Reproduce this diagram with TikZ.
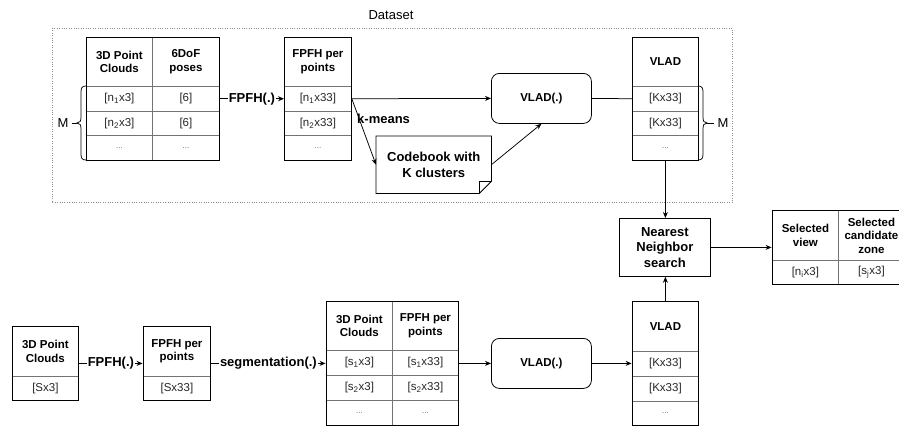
\documentclass[tikz,border=0pt]{standalone}
\usepackage{fontspec}
\setmainfont{Liberation Sans}
\usetikzlibrary{arrows.meta,fit,calc}
\newcommand\myfsS{\fontsize{11.5}{13.5}\selectfont}
\newcommand\myfsL{\fontsize{13}{15.5}\selectfont}
\newcommand\myfsT{\fontsize{8}{9}\selectfont}
\newcommand\cellnode[7][]{\node[cellst,#1,minimum width=#5pt,minimum height=#6pt] (#2) at (#3,#4) {#7};}
\tikzset{
  cellst/.style={draw=black!55, line width=0.8pt, anchor=north west, inner sep=0pt, align=center, font=\myfsS, text=black!85},
  hdr/.style={font=\myfsS\bfseries, text=black},
  dots/.style={font=\myfsT, text=black!60},
  tbl/.style={draw=black, line width=0.9pt, inner sep=0pt},
  conn/.style={line width=0.75pt, draw=black},
  arr/.style={conn, -{Stealth[length=6pt,width=5pt,inset=2pt]}},
  lbl/.style={fill=white, font=\myfsL\bfseries, inner sep=1pt},
  procbox/.style={draw=black, line width=0.8pt, anchor=north west, align=center, inner sep=0pt},
  dotbox/.style={draw=black!45, line width=0.8pt, dash pattern=on 0.8pt off 1.6pt, anchor=north west, inner sep=0pt}
}
\begin{document}
\begin{tikzpicture}[x=1pt,y=-1pt]
\useasboundingbox (0,0) rectangle (899,426);
\clip (0,0) rectangle (899,426);
\fill[white] (0,0) rectangle (899,426);

% dataset frame
\node[dotbox, minimum width=680pt, minimum height=174pt] (ds) at (52,28) {};
\node[font=\myfsL] (dslabel) at (391,15) {Dataset};

% table 1: 3D point clouds + poses
\cellnode[hdr]{a1}{86}{37}{66}{49}{3D Point\\Clouds}
\cellnode[hdr]{b1}{152}{37}{67}{49}{6DoF\\poses}
\cellnode{a2}{86}{86}{66}{24.67}{[n\textsubscript{1}x3]}
\cellnode{b2}{152}{86}{67}{24.67}{[6]}
\cellnode{a3}{86}{110.67}{66}{24.67}{[n\textsubscript{2}x3]}
\cellnode{b3}{152}{110.67}{67}{24.67}{[6]}
\cellnode[dots]{a4}{86}{135.33}{66}{24.67}{...}
\cellnode[dots]{b4}{152}{135.33}{67}{24.67}{...}
\node[tbl, fit=(a1)(b4)] (T1) {};

% table 2: FPFH per points
\cellnode[hdr]{c1}{284}{37}{67}{49}{FPFH per\\points}
\cellnode{c2}{284}{86}{67}{24.67}{[n\textsubscript{1}x33]}
\cellnode{c3}{284}{110.67}{67}{24.67}{[n\textsubscript{2}x33]}
\cellnode[dots]{c4}{284}{135.33}{67}{24.67}{...}
\node[tbl, fit=(c1)(c4)] (T2) {};

% table 3: VLAD (dataset)
\cellnode[hdr]{d1}{632}{37}{66}{49}{VLAD}
\cellnode{d2}{632}{86}{66}{24.67}{[Kx33]}
\cellnode{d3}{632}{110.67}{66}{24.67}{[Kx33]}
\cellnode[dots]{d4}{632}{135.33}{66}{24.67}{...}
\node[tbl, fit=(d1)(d4)] (T3) {};

% VLAD(.) top
\node[procbox, rounded corners=8pt, minimum width=100pt, minimum height=50pt, font=\myfsS\bfseries] (vf1) at (491,73) {VLAD(.)};

% codebook note
\node[anchor=north west, inner sep=0pt, minimum width=115pt, minimum height=57pt, align=center, font=\myfsL\bfseries] (cb) at (376,136) {Codebook with\\K clusters};
\draw[line width=0.8pt] (cb.north west) -- (cb.north east) -- ($(cb.south east)+(0,-12)$) -- ($(cb.south east)+(-12,0)$) -- (cb.south west) -- cycle;
\draw[line width=0.8pt] ($(cb.south east)+(-12,0)$) -- ($(cb.south east)+(-12,-12)$) -- ($(cb.south east)+(0,-12)$);

% braces and M
\node[font=\myfsL] (m1) at (63,123) {M};
\draw[line width=0.75pt] (86,86) .. controls (82,86) and (81,88) .. (81,92) -- (81,117) .. controls (81,121) and (80,123) .. (77,123) .. controls (80,123) and (81,125) .. (81,129) -- (81,154) .. controls (81,158) and (82,160) .. (86,160);
\draw[line width=0.75pt] (77,123) -- (m1.east);
\node[font=\myfsL] (m2) at (723,123) {M};
\draw[line width=0.75pt] (698,86) .. controls (702,86) and (703,88) .. (703,92) -- (703,117) .. controls (703,121) and (704,123) .. (707,123) .. controls (704,123) and (703,125) .. (703,129) -- (703,154) .. controls (703,158) and (702,160) .. (698,160);
\draw[line width=0.75pt] (707,123) -- (m2.west);

% nearest neighbour
\node[procbox, minimum width=91pt, minimum height=58pt, font=\myfsL\bfseries] (nn) at (619,218) {Nearest\\Neighbor\\search};

% selected table
\cellnode[hdr]{s1}{772}{210}{66}{50}{Selected\\view}
\cellnode[hdr]{t1}{838}{210}{66}{50}{Selected\\candidate\\zone}
\cellnode{s2}{772}{260}{66}{24}{[n\textsubscript{i}x3]}
\cellnode{t2}{838}{260}{66}{24}{[s\textsubscript{j}x3]}
\node[tbl, fit=(s1)(t2)] (T8) {};

% bottom row
\cellnode[hdr]{e1}{12}{326}{66}{50}{3D Point\\Clouds}
\cellnode{e2}{12}{376}{66}{24}{[Sx3]}
\node[tbl, fit=(e1)(e2)] (T4) {};

\cellnode[hdr]{f1}{143}{326}{67}{50}{FPFH per\\points}
\cellnode{f2}{143}{376}{67}{24}{[Sx33]}
\node[tbl, fit=(f1)(f2)] (T5) {};

\cellnode[hdr]{g1}{326}{301}{66}{49}{3D Point\\Clouds}
\cellnode[hdr]{h1}{392}{301}{66}{49}{FPFH per\\points}
\cellnode{g2}{326}{350}{66}{25}{[s\textsubscript{1}x3]}
\cellnode{h2}{392}{350}{66}{25}{[s\textsubscript{1}x33]}
\cellnode{g3}{326}{375}{66}{25}{[s\textsubscript{2}x3]}
\cellnode{h3}{392}{375}{66}{25}{[s\textsubscript{2}x33]}
\cellnode[dots]{g4}{326}{400}{66}{25}{...}
\cellnode[dots]{h4}{392}{400}{66}{25}{...}
\node[tbl, fit=(g1)(h4)] (T6) {};

\node[procbox, rounded corners=8pt, minimum width=100pt, minimum height=50pt, font=\myfsS\bfseries] (vf2) at (491,338) {VLAD(.)};

\cellnode[hdr]{k1}{632}{301}{66}{50}{VLAD}
\cellnode{k2}{632}{351}{66}{25}{[Kx33]}
\cellnode{k3}{632}{376}{66}{25}{[Kx33]}
\cellnode[dots]{k4}{632}{401}{66}{24}{...}
\node[tbl, fit=(k1)(k4)] (T7) {};

% connectors
\draw[arr] (b2.east) -- node[lbl] {FPFH(.)} (c2.west);
\draw[arr] (c2.east) -- (vf1.west);
\draw[arr] (c2.east) -- (cb.west);
\node[font=\myfsL\bfseries, anchor=west, inner sep=0pt] (km) at (357,119) {k-means};
\draw[arr] (cb.east) -- (vf1.south);
\draw[conn] (vf1.east) -- (d2.west);
\draw[arr] (T3.south) -- (T3.south |- nn.north);
\draw[arr] (T7.north) -- (T7.north |- nn.south);
\draw[arr] (nn.east) -- (nn.east -| T8.west);
\draw[arr] (T4.east) -- node[lbl] {FPFH(.)} (T5.west);
\draw[arr] (T5.east) -- node[lbl] {segmentation(.)} (T6.west);
\draw[arr] (T6.east) -- (vf2.west);
\draw[arr] (vf2.east) -- (T7.west);
\end{tikzpicture}
\end{document}
